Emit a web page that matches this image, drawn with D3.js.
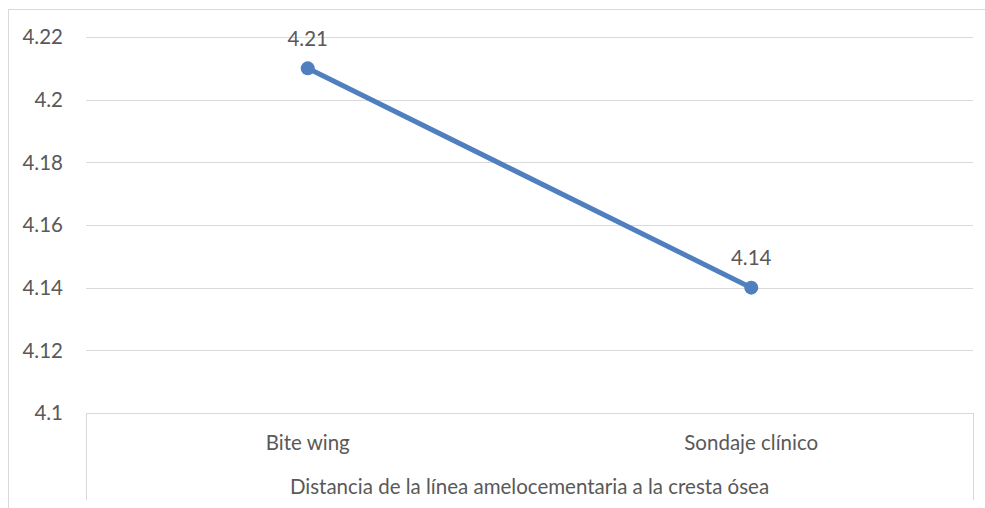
<!DOCTYPE html>
<html>
<head>
<meta charset="utf-8">
<script src="https://cdn.jsdelivr.net/npm/d3@7"></script>
<style>
  html, body { margin: 0; padding: 0; background: #fff; }
  svg { display: block; }
  text { font-family: Lato, "Open Sans", sans-serif; fill: #595959; }
</style>
</head>
<body>
<svg id="chart" width="985" height="508"></svg>
<script>
// Mean distance from the cementoenamel junction to the bone crest, by method
const categories = ["Bite wing", "Sondaje clínico"];
const values = [4.21, 4.14];
const valueLabels = ["4.21", "4.14"];
const yTicks = [4.1, 4.12, 4.14, 4.16, 4.18, 4.2, 4.22];
const yTickLabels = ["4.1", "4.12", "4.14", "4.16", "4.18", "4.2", "4.22"];
const axisTitle = "Distancia de la línea amelocementaria a la cresta ósea";

const svg = d3.select("#chart");
const plot = { left: 86, right: 973, top: 37, bottom: 413 };
const fontSize = 20.5;

// outer chart frame
svg.append("rect")
  .attr("x", 8.5).attr("y", 9.5)
  .attr("width", 990).attr("height", 520)
  .attr("fill", "none").attr("stroke", "#d9d9d9").attr("stroke-width", 1);

const x = d3.scaleBand().domain(categories).range([plot.left, plot.right]);
const y = d3.scaleLinear().domain([4.1, 4.22]).range([plot.bottom, plot.top]);

// horizontal gridlines
svg.append("g")
  .selectAll("line")
  .data(yTicks)
  .join("line")
  .attr("x1", plot.left).attr("x2", plot.right)
  .attr("y1", d => Math.round(y(d)) + 0.5).attr("y2", d => Math.round(y(d)) + 0.5)
  .attr("stroke", "#d9d9d9").attr("stroke-width", 1);

// y tick labels
svg.append("g")
  .selectAll("text")
  .data(yTicks)
  .join("text")
  .attr("x", 63)
  .attr("y", d => y(d))
  .attr("dy", "0.35em")
  .attr("text-anchor", "end")
  .attr("font-size", fontSize)
  .text((d, i) => yTickLabels[i]);

// category axis boundary ticks (extend below the axis)
svg.append("g")
  .selectAll("line")
  .data([plot.left, plot.right])
  .join("line")
  .attr("x1", d => d + 0.5).attr("x2", d => d + 0.5)
  .attr("y1", plot.bottom).attr("y2", 500)
  .attr("stroke", "#d9d9d9").attr("stroke-width", 1);

// category labels
svg.append("g")
  .selectAll("text")
  .data(categories)
  .join("text")
  .attr("x", d => x(d) + x.bandwidth() / 2)
  .attr("y", 443)
  .attr("dy", "0.35em")
  .attr("text-anchor", "middle")
  .attr("font-size", fontSize)
  .text(d => d);

// axis title
svg.append("text")
  .attr("x", (plot.left + plot.right) / 2)
  .attr("y", 487)
  .attr("dy", "0.35em")
  .attr("text-anchor", "middle")
  .attr("font-size", fontSize)
  .text(axisTitle);

// series line
const pts = categories.map((c, i) => [x(c) + x.bandwidth() / 2, y(values[i])]);
svg.append("path")
  .attr("d", d3.line()(pts))
  .attr("fill", "none")
  .attr("stroke", "#4f7fbf")
  .attr("stroke-width", 5)
  .attr("stroke-linecap", "round");

svg.append("g")
  .selectAll("circle")
  .data(pts)
  .join("circle")
  .attr("cx", d => d[0]).attr("cy", d => d[1])
  .attr("r", 7)
  .attr("fill", "#4f7fbf");

// data labels
svg.append("g")
  .selectAll("text")
  .data(pts)
  .join("text")
  .attr("x", d => d[0])
  .attr("y", d => d[1] - 30)
  .attr("dy", "0.35em")
  .attr("text-anchor", "middle")
  .attr("font-size", fontSize)
  .text((d, i) => valueLabels[i]);
</script>
</body>
</html>
